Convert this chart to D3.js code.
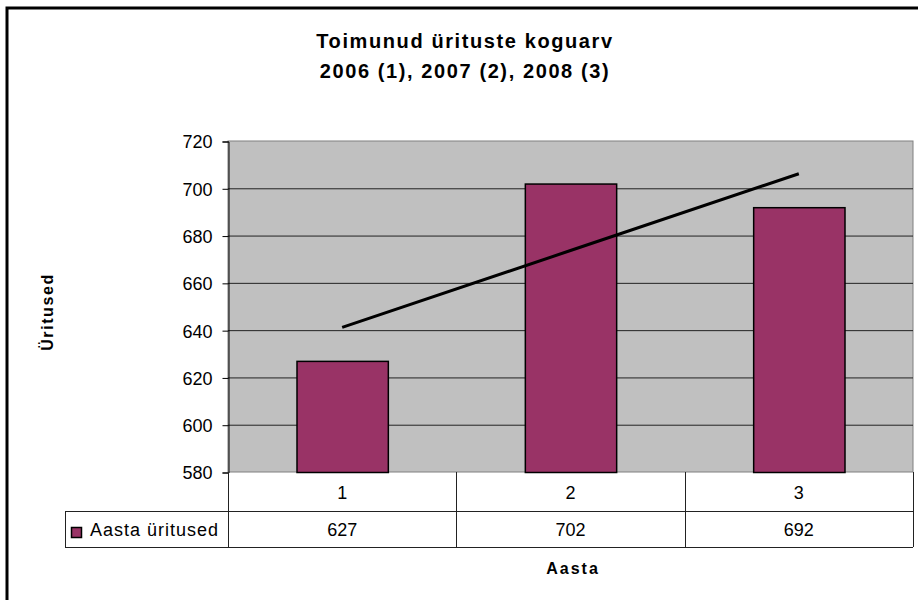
<!DOCTYPE html>
<html>
<head>
<meta charset="utf-8">
<script src="https://cdn.jsdelivr.net/npm/d3@7"></script>
<style>
  body { margin: 0; background: #fff; }
  text { font-family: "Liberation Sans", Arial, sans-serif; fill: #000; }
</style>
</head>
<body>
<svg id="chart" width="918" height="600"></svg>
<script>
var categories = ["1", "2", "3"]
var values = [627, 702, 692]
var seriesName = "Aasta üritused"
var yTicks = [580, 600, 620, 640, 660, 680, 700, 720]
var titleLines = ["Toimunud ürituste koguarv", "2006 (1), 2007 (2), 2008 (3)"]

var dimensions = {
    width: 918,
    height: 600,
    plot: { left: 228, right: 913, top: 141, bottom: 472 }
}

var svg = d3.select("#chart")

// outer frame
svg.append("rect")
   .attr("x", 7).attr("y", 8)
   .attr("width", 930).attr("height", 620)
   .attr("fill", "#fff")
   .attr("stroke", "#000").attr("stroke-width", 3)

var xScale = d3.scaleBand()
               .domain(categories)
               .range([dimensions.plot.left, dimensions.plot.right])

var barScale = d3.scaleBand()
               .domain(categories)
               .range([dimensions.plot.left, dimensions.plot.right])
               .paddingInner(0.6)
               .paddingOuter(0.3)

var yScale = d3.scaleLinear()
               .domain([580, 720])
               .range([dimensions.plot.bottom, dimensions.plot.top])

// plot area
svg.append("rect")
   .attr("x", dimensions.plot.left).attr("y", dimensions.plot.top)
   .attr("width", dimensions.plot.right - dimensions.plot.left)
   .attr("height", dimensions.plot.bottom - dimensions.plot.top)
   .attr("fill", "#c0c0c0")
   .attr("stroke", "#808080").attr("stroke-width", 1)

// gridlines
svg.append("g")
   .selectAll("line")
   .data(yTicks.slice(1, -1))
   .enter().append("line")
   .attr("x1", dimensions.plot.left).attr("x2", dimensions.plot.right)
   .attr("y1", d => yScale(d) + 0.5).attr("y2", d => yScale(d) + 0.5)
   .attr("stroke", "#222").attr("stroke-width", 1)

// bars
svg.append("g")
   .selectAll("rect")
   .data(values)
   .enter().append("rect")
   .attr("x", (d, i) => barScale(categories[i]) + 0.5)
   .attr("y", d => yScale(d) + 0.5)
   .attr("width", barScale.bandwidth())
   .attr("height", d => yScale(580) - yScale(d))
   .attr("fill", "#993366")
   .attr("stroke", "#000").attr("stroke-width", 1.5)

// linear trendline
var xs = categories.map((c, i) => i + 1)
var mx = d3.mean(xs), my = d3.mean(values)
var slope = d3.sum(xs, (x, i) => (x - mx) * (values[i] - my)) / d3.sum(xs, x => (x - mx) * (x - mx))
var icpt = my - slope * mx
var trend = xs.map((x, i) => [xScale(categories[i]) + xScale.bandwidth() / 2, yScale(icpt + slope * x)])
svg.append("path")
   .attr("d", d3.line()(trend))
   .attr("fill", "none")
   .attr("stroke", "#000").attr("stroke-width", 3)

// y axis
var yAxisGen = d3.axisLeft(yScale).tickValues(yTicks).tickSize(6).tickPadding(10)
var yAxis = svg.append("g")
               .attr("transform", `translate(${dimensions.plot.left + 0.5},0.5)`)
               .call(yAxisGen)
yAxis.select(".domain").attr("stroke", "#000")
yAxis.selectAll("line").attr("stroke", "#000")
yAxis.selectAll("text")
     .style("font-family", "Liberation Sans, Arial, sans-serif")
     .style("font-size", "18px")
     .attr("dy", "0.36em")
     .attr("fill", "#000")

// data table
var tTop = dimensions.plot.bottom
var row1 = tTop + 39
var row2 = row1 + 36
var tableLeft = 65
var tbl = svg.append("g").attr("stroke", "#222").attr("stroke-width", 1).attr("fill", "none")
tbl.append("line").attr("x1", tableLeft).attr("x2", dimensions.plot.right).attr("y1", row1 + 0.5).attr("y2", row1 + 0.5)
tbl.append("line").attr("x1", tableLeft).attr("x2", dimensions.plot.right).attr("y1", row2 + 0.5).attr("y2", row2 + 0.5)
tbl.append("line").attr("x1", tableLeft + 0.5).attr("x2", tableLeft + 0.5).attr("y1", row1).attr("y2", row2)
var edges = categories.map(c => xScale(c)).concat([dimensions.plot.right])
tbl.selectAll("line.v")
   .data(edges)
   .enter().append("line")
   .attr("x1", d => Math.round(d) + 0.5).attr("x2", d => Math.round(d) + 0.5)
   .attr("y1", tTop).attr("y2", row2)

svg.append("g").selectAll("text")
   .data(categories)
   .enter().append("text")
   .attr("x", d => xScale(d) + xScale.bandwidth() / 2)
   .attr("y", (tTop + row1) / 2 + 7)
   .attr("text-anchor", "middle")
   .style("font-size", "18px")
   .text(d => d)

svg.append("g").selectAll("text")
   .data(values)
   .enter().append("text")
   .attr("x", (d, i) => xScale(categories[i]) + xScale.bandwidth() / 2)
   .attr("y", (row1 + row2) / 2 + 7)
   .attr("text-anchor", "middle")
   .style("font-size", "18px")
   .text(d => d)

// legend key in table
svg.append("rect")
   .attr("x", 71.5).attr("y", 527.5)
   .attr("width", 10).attr("height", 10)
   .attr("fill", "#993366").attr("stroke", "#000").attr("stroke-width", 1.5)
svg.append("text")
   .attr("x", 90).attr("y", (row1 + row2) / 2 + 7)
   .style("font-size", "18px")
   .style("letter-spacing", "1px")
   .text(seriesName)

// titles
svg.append("g").selectAll("text")
   .data(titleLines)
   .enter().append("text")
   .attr("x", 465)
   .attr("y", (d, i) => 48 + i * 30)
   .attr("text-anchor", "middle")
   .style("font-size", "20px")
   .style("font-weight", "bold")
   .style("letter-spacing", "1.6px")
   .text(d => d)

svg.append("text")
   .attr("transform", "translate(53,312) rotate(-90)")
   .attr("text-anchor", "middle")
   .style("font-size", "16px")
   .style("font-weight", "bold")
   .style("letter-spacing", "1.6px")
   .text("Üritused")

svg.append("text")
   .attr("x", 573).attr("y", 574)
   .attr("text-anchor", "middle")
   .style("font-size", "16px")
   .style("font-weight", "bold")
   .style("letter-spacing", "2px")
   .text("Aasta")
</script>
</body>
</html>
